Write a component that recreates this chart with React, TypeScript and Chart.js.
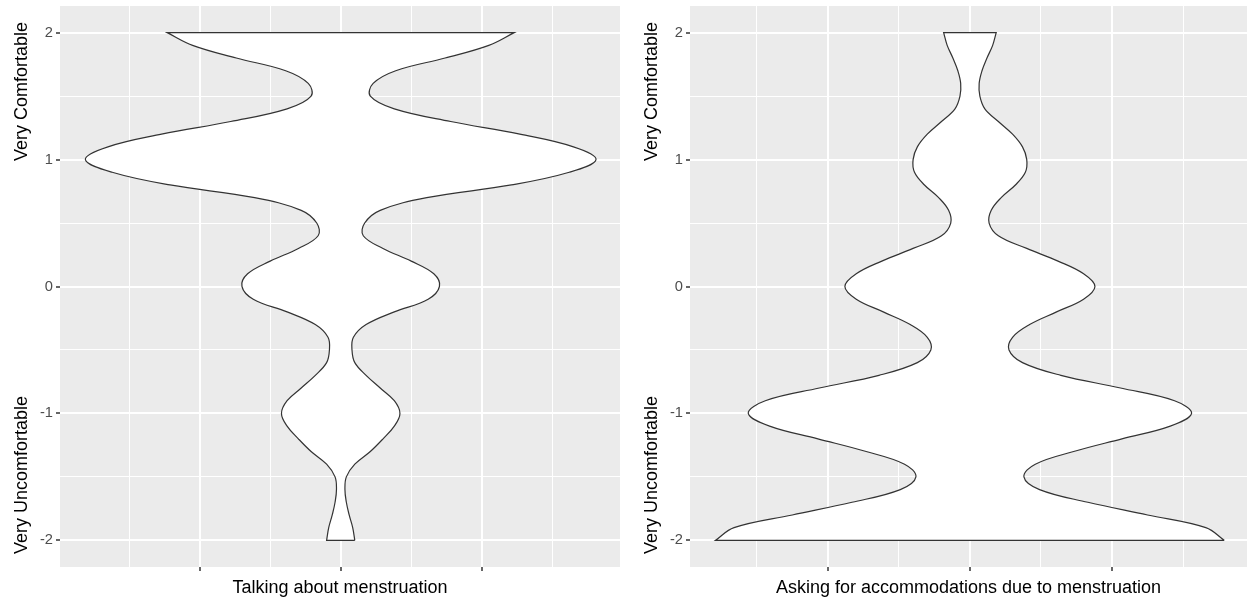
import React, { useEffect, useRef } from 'react';
import { Chart, registerables } from 'chart.js';

Chart.register(...registerables);

// Comfort levels (y) at which the violin half-widths were read
const levels = [
  2.0, 1.9, 1.8, 1.7, 1.6, 1.5, 1.4, 1.3, 1.2, 1.1, 1.0,
  0.9, 0.8, 0.7, 0.6, 0.5, 0.4, 0.3, 0.2, 0.1, 0.0,
  -0.1, -0.2, -0.3, -0.4, -0.5, -0.6, -0.7, -0.8, -0.9, -1.0,
  -1.1, -1.2, -1.3, -1.4, -1.5, -1.6, -1.7, -1.8, -1.9, -2.0,
];

// Half-width of the violin (density) at each level, panel 1
const talkingWidths = [
  1.23, 1.05, 0.74, 0.39, 0.23, 0.21, 0.38, 0.78, 1.27, 1.65, 1.81,
  1.62, 1.21, 0.61, 0.28, 0.17, 0.16, 0.30, 0.50, 0.66, 0.70,
  0.62, 0.38, 0.18, 0.09, 0.08, 0.10, 0.18, 0.28, 0.38, 0.42,
  0.38, 0.30, 0.21, 0.10, 0.04, 0.03, 0.04, 0.06, 0.085, 0.10,
];

// Half-width of the violin (density) at each level, panel 2
const askingWidths = [
  0.185, 0.16, 0.12, 0.085, 0.065, 0.07, 0.105, 0.20, 0.30, 0.37, 0.40,
  0.39, 0.32, 0.22, 0.15, 0.135, 0.20, 0.40, 0.62, 0.80, 0.88,
  0.80, 0.61, 0.42, 0.30, 0.275, 0.37, 0.64, 1.06, 1.44, 1.56,
  1.41, 1.07, 0.73, 0.46, 0.38, 0.49, 0.83, 1.25, 1.66, 1.79,
];

const yMajorTicks = [-2, -1, 0, 1, 2];
const yMinorTicks = [-1.5, -0.5, 0.5, 1.5];
const xMajorTicks = [-1, 0, 1];
const xMinorTicks = [-1.5, -0.5, 0.5, 1.5];

const panelTitles = [
  'Talking about menstruation',
  'Asking for accommodations due to menstruation',
];
const yTitleLow = 'Very Uncomfortable';
const yTitleHigh = 'Very Comfortable';

const FONT = '"Liberation Sans", Arial, sans-serif';

function buildViolin(widths: number[]) {
  const n = levels.length;
  const pts: { x: number; y: number }[] = [];
  // right side, bottom to top (corner points doubled to keep the trimmed ends straight)
  pts.push({ x: widths[n - 1], y: levels[n - 1] });
  for (let i = n - 1; i >= 0; i--) pts.push({ x: widths[i], y: levels[i] });
  pts.push({ x: widths[0], y: levels[0] });
  // left side, top to bottom
  pts.push({ x: -widths[0], y: levels[0] });
  for (let i = 0; i < n; i++) pts.push({ x: -widths[i], y: levels[i] });
  pts.push({ x: -widths[n - 1], y: levels[n - 1] });
  pts.push({ x: widths[n - 1], y: levels[n - 1] });
  return pts;
}

const bgPlugin = {
  id: 'panelBg',
  beforeDraw(chart: any) {
    const { ctx, chartArea: a } = chart;
    ctx.save();
    ctx.fillStyle = '#EBEBEB';
    ctx.fillRect(a.left, a.top, a.right - a.left, a.bottom - a.top);
    ctx.restore();
  },
};

function makeTextPlugin(title: string) {
  return {
    id: 'panelText',
    afterDraw(chart: any) {
      const { ctx, chartArea: a } = chart;
      ctx.save();
      ctx.fillStyle = '#000000';
      ctx.font = `18px ${FONT}`;
      ctx.textAlign = 'center';
      ctx.textBaseline = 'alphabetic';
      ctx.fillText(title, (a.left + a.right) / 2, a.bottom + 26);
      // rotated y title
      const full = yTitleLow + ' '.repeat(47) + yTitleHigh;
      ctx.translate(a.left - 33, (a.top + a.bottom) / 2 + 1.5);
      ctx.rotate(-Math.PI / 2);
      ctx.fillText(full, 0, 0);
      ctx.restore();
    },
  };
}

const isIn = (arr: number[], v: number) => arr.some((t) => Math.abs(t - v) < 1e-9);

function Panel(props: { idx: number; widths: number[]; xMin: number; xMax: number; left: number; width: number; padRight: number }) {
  const ref = useRef<HTMLCanvasElement | null>(null);
  useEffect(() => {
    if (!ref.current) return;
    const chart = new Chart(ref.current, {
      type: 'scatter',
      data: {
        datasets: [
          {
            data: buildViolin(props.widths),
            showLine: true,
            fill: 'shape' as any,
            backgroundColor: '#FFFFFF',
            borderColor: '#333333',
            borderWidth: 1.2,
            pointRadius: 0,
            tension: 0.38,
          } as any,
        ],
      },
      options: {
        animation: false,
        responsive: false,
        devicePixelRatio: 1,
        layout: { padding: { top: 6, right: props.padRight, left: 0, bottom: 0 } },
        plugins: { legend: { display: false }, tooltip: { enabled: false } },
        scales: {
          x: {
            type: 'linear',
            min: props.xMin,
            max: props.xMax,
            afterBuildTicks: (scale: any) => {
              scale.ticks = [...xMinorTicks, ...xMajorTicks].sort((a, b) => a - b).map((value) => ({ value }));
            },
            afterFit: (scale: any) => {
              scale.height = 36;
              scale.paddingLeft = 0;
              scale.paddingRight = 0;
            },
            ticks: { callback: () => '', padding: 0 },
            grid: {
              color: '#FFFFFF',
              lineWidth: (c: any) => (isIn(xMajorTicks, c.tick?.value) ? 2 : 1),
              drawTicks: true,
              tickLength: 4,
              tickWidth: 1.5,
              tickColor: (c: any) => (isIn(xMajorTicks, c.tick?.value) ? '#333333' : 'rgba(0,0,0,0)'),
            },
            border: { display: false },
          },
          y: {
            type: 'linear',
            min: -2.21,
            max: 2.21,
            afterBuildTicks: (scale: any) => {
              scale.ticks = [...yMinorTicks, ...yMajorTicks].sort((a, b) => a - b).map((value) => ({ value }));
            },
            afterFit: (scale: any) => {
              scale.width = 60;
              scale.paddingTop = 0;
              scale.paddingBottom = 0;
            },
            ticks: {
              callback: (v: any) => (isIn(yMajorTicks, Number(v)) ? String(v) : ''),
              color: '#4D4D4D',
              font: { family: FONT, size: 14.7 },
              padding: 3,
            },
            grid: {
              color: '#FFFFFF',
              lineWidth: (c: any) => (isIn(yMajorTicks, c.tick?.value) ? 2 : 1),
              drawTicks: true,
              tickLength: 4,
              tickWidth: 1.5,
              tickColor: (c: any) => (isIn(yMajorTicks, c.tick?.value) ? '#333333' : 'rgba(0,0,0,0)'),
            },
            border: { display: false },
          },
        },
      } as any,
      plugins: [bgPlugin, makeTextPlugin(panelTitles[props.idx])],
    });
    return () => chart.destroy();
  }, []);
  return (
    <canvas
      ref={ref}
      width={props.width}
      height={603}
      style={{ position: 'absolute', left: props.left, top: 0, width: props.width, height: 603 }}
    />
  );
}

export default function App() {
  return (
    <div style={{ position: 'fixed', left: 0, top: 0, width: 1247, height: 603, background: '#FFFFFF', overflow: 'hidden' }}>
      <Panel idx={0} widths={talkingWidths} xMin={-1.99} xMax={1.98} left={0} width={630} padRight={10} />
      <Panel idx={1} widths={askingWidths} xMin={-1.97} xMax={1.95} left={630} width={617} padRight={0} />
    </div>
  );
}
